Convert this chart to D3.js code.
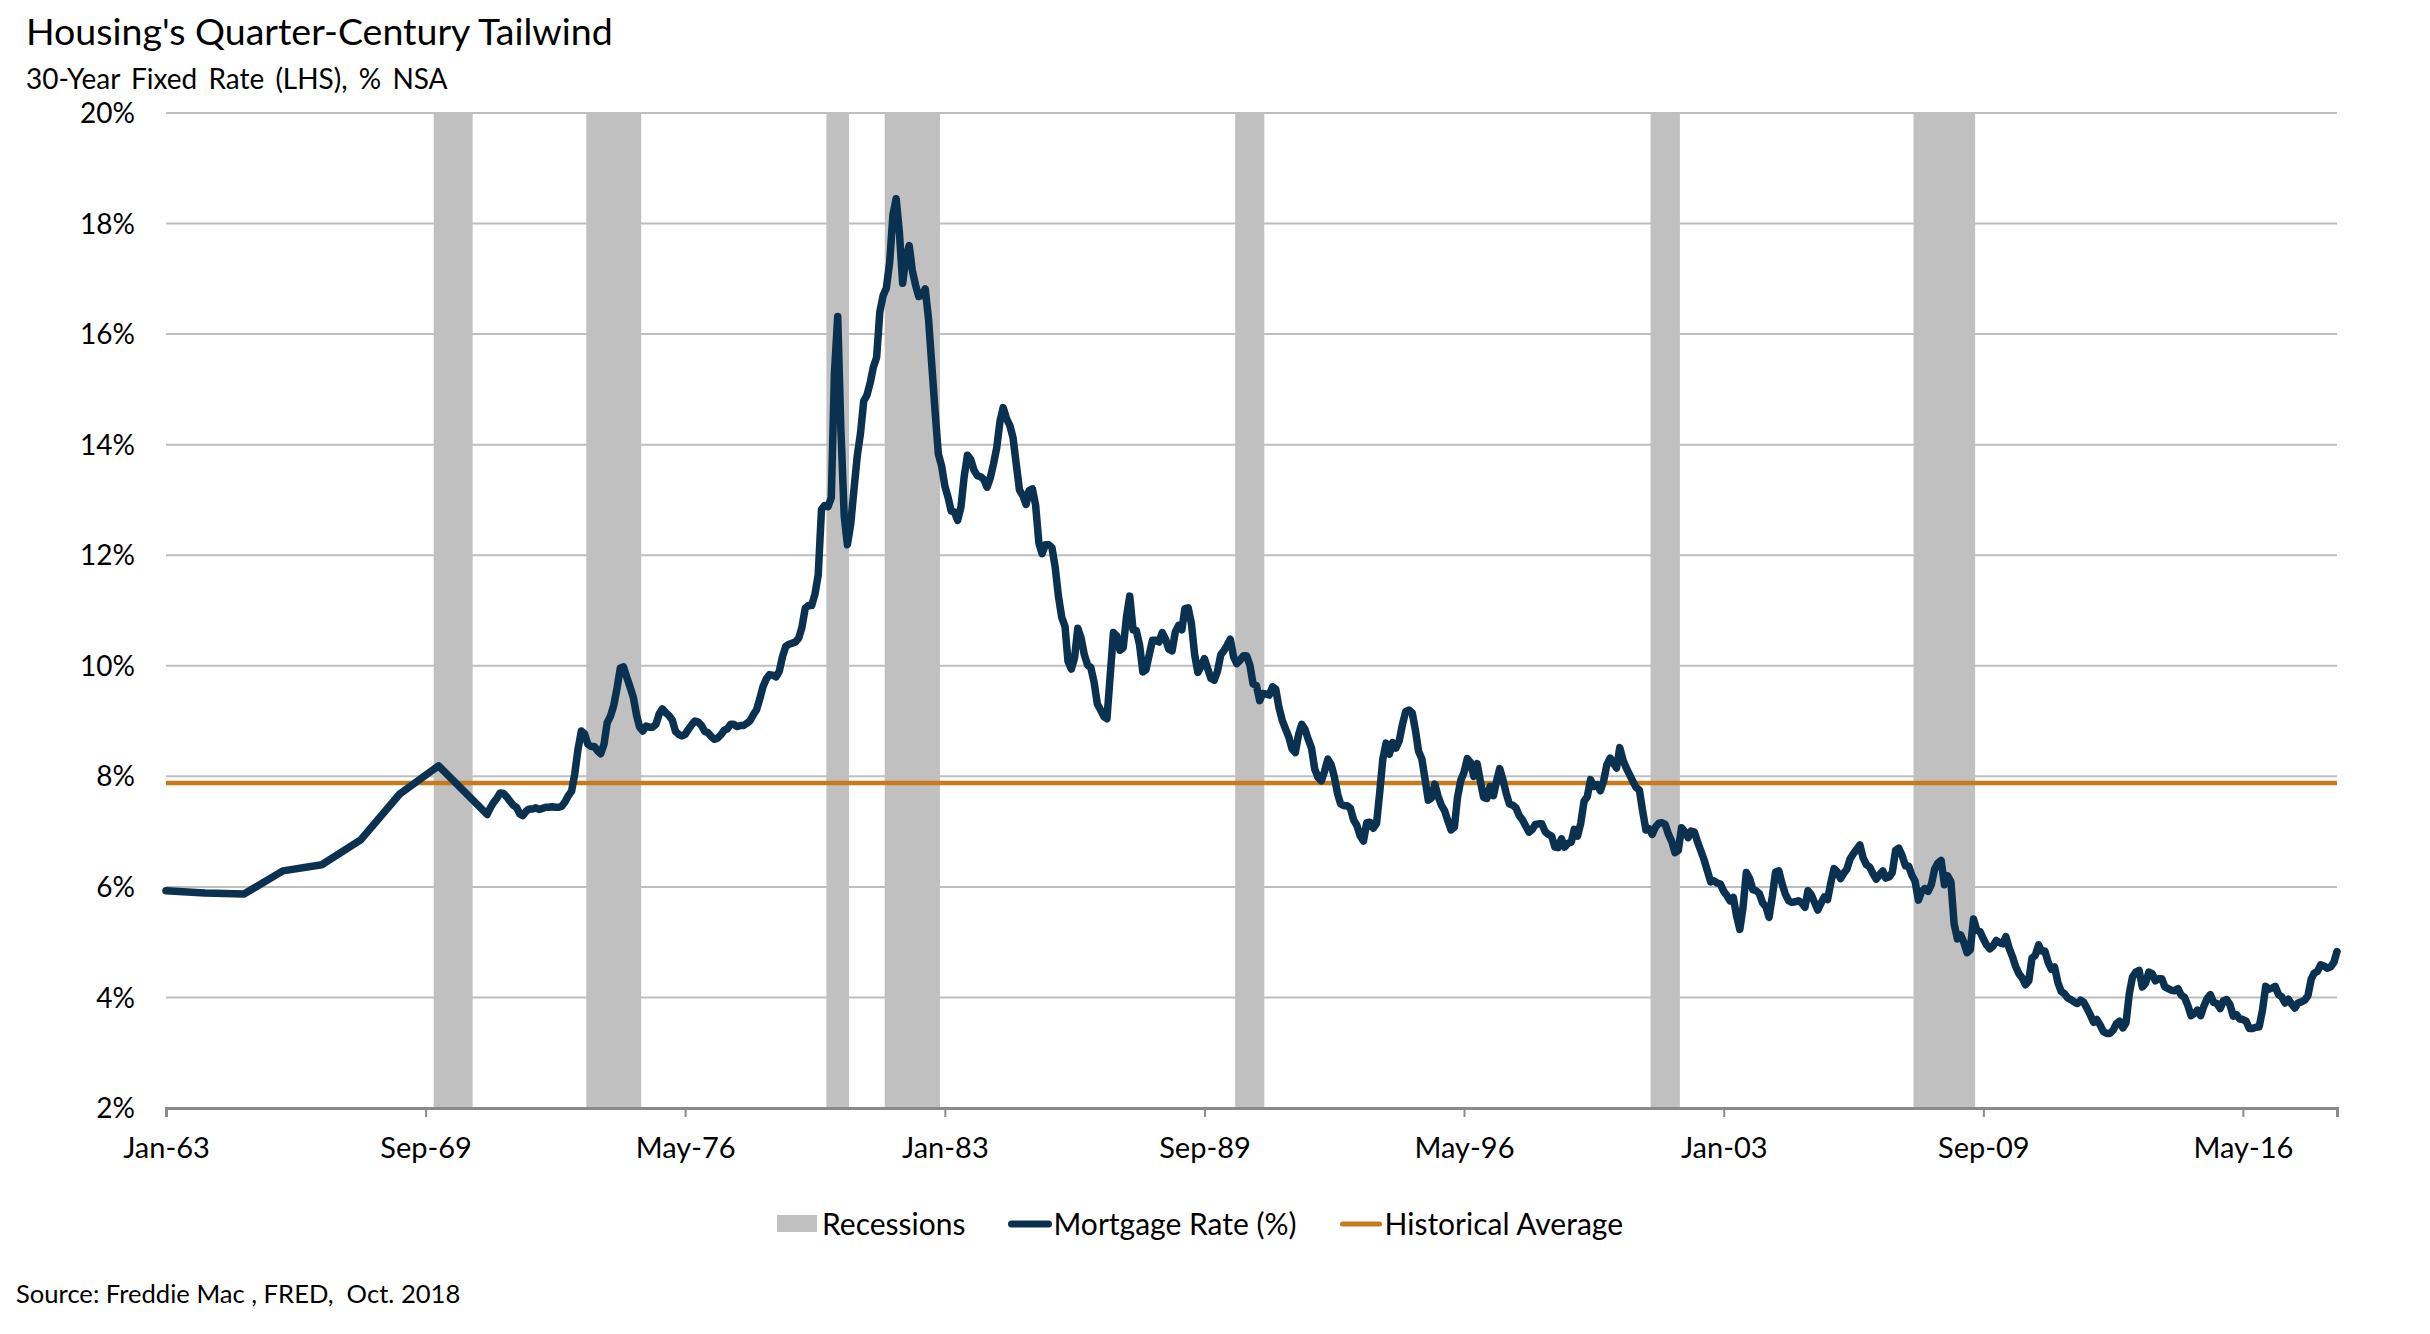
<!DOCTYPE html>
<html>
<head>
<meta charset="utf-8">
<script src="https://cdn.jsdelivr.net/npm/d3@7"></script>
<style>
  html, body { margin: 0; padding: 0; background: #fff; }
  svg { display: block; font-family: Lato, "Open Sans", sans-serif; }
</style>
</head>
<body>
<div id="chart"></div>
<script>
// Housing's Quarter-Century Tailwind – 30-year fixed mortgage rate, 1963–2018

// annual points before the weekly survey starts
const earlyDates = ["1963-01", "1964-01", "1965-01", "1966-01", "1967-01", "1968-01", "1969-01", "1970-01"];
const earlyRates = [5.93, 5.89, 5.87, 6.29, 6.40, 6.85, 7.68, 8.19];

// monthly averages, Apr 1971 onward
const pmmsStart = "1971-04";
const rates1970s = [
  7.31, 7.43, 7.53, 7.60, 7.70, 7.69, 7.63, 7.55, 7.48,                   // 1971 (Apr-Dec)
  7.44, 7.32, 7.29, 7.37, 7.41, 7.41, 7.43, 7.40, 7.42, 7.44, 7.44, 7.45, // 1972
  7.44, 7.44, 7.46, 7.54, 7.65, 7.73, 8.05, 8.50, 8.82, 8.77, 8.58, 8.54, // 1973
  8.54, 8.46, 8.41, 8.58, 8.97, 9.09, 9.28, 9.59, 9.96, 9.98, 9.79, 9.62, // 1974
  9.43, 9.10, 8.89, 8.82, 8.91, 8.89, 8.89, 8.94, 9.13, 9.22, 9.15, 9.10, // 1975
  9.02, 8.81, 8.76, 8.73, 8.76, 8.85, 8.93, 9.00, 8.98, 8.92, 8.81, 8.79, // 1976
  8.72, 8.67, 8.69, 8.75, 8.83, 8.86, 8.94, 8.94, 8.90, 8.92, 8.92, 8.96, // 1977
  9.01, 9.12, 9.20, 9.40, 9.62, 9.76, 9.84, 9.83, 9.80, 9.90, 10.17, 10.35, // 1978
  10.39, 10.41, 10.43, 10.50, 10.69, 11.04, 11.09, 11.09, 11.30, 11.64, 12.83, 12.90 // 1979
];
const rates1980s = [
  12.88, 13.04, 15.28, 16.32, 14.26, 12.71, 12.19, 12.56, 13.20, 13.79, 14.21, 14.79, // 1980
  14.90, 15.13, 15.40, 15.58, 16.40, 16.70, 16.83, 17.29, 18.16, 18.45, 17.83, 16.92, // 1981
  17.40, 17.60, 17.16, 16.89, 16.68, 16.70, 16.82, 16.27, 15.43, 14.61, 13.83, 13.62, // 1982
  13.25, 13.04, 12.80, 12.78, 12.63, 12.87, 13.42, 13.81, 13.73, 13.54, 13.44, 13.42, // 1983
  13.37, 13.23, 13.39, 13.65, 13.94, 14.42, 14.67, 14.47, 14.35, 14.13, 13.64, 13.18, // 1984
  13.08, 12.92, 13.17, 13.20, 12.91, 12.22, 12.03, 12.19, 12.19, 12.14, 11.78, 11.26, // 1985
  10.88, 10.71, 10.08, 9.94, 10.14, 10.68, 10.51, 10.20, 10.01, 9.97, 9.70, 9.31,     // 1986
  9.20, 9.08, 9.04, 9.83, 10.60, 10.54, 10.28, 10.33, 10.89, 11.26, 10.65, 10.64,     // 1987
  10.38, 9.89, 9.93, 10.20, 10.46, 10.46, 10.43, 10.60, 10.48, 10.30, 10.27, 10.61,   // 1988
  10.73, 10.65, 11.03, 11.05, 10.77, 10.20, 9.88, 9.99, 10.13, 9.95, 9.77, 9.74       // 1989
];
const rates1990s = [
  9.90, 10.20, 10.27, 10.37, 10.48, 10.16, 10.04, 10.10, 10.18, 10.18, 10.01, 9.67, // 1990
  9.64, 9.37, 9.50, 9.49, 9.47, 9.62, 9.58, 9.24, 9.01, 8.86, 8.71, 8.50,           // 1991
  8.43, 8.76, 8.94, 8.85, 8.67, 8.51, 8.13, 7.98, 7.92, 8.09, 8.31, 8.22,           // 1992
  7.99, 7.68, 7.50, 7.47, 7.47, 7.42, 7.21, 7.11, 6.92, 6.83, 7.16, 7.17,           // 1993
  7.06, 7.15, 7.68, 8.32, 8.60, 8.40, 8.61, 8.51, 8.64, 8.93, 9.17, 9.20,           // 1994
  9.15, 8.83, 8.46, 8.32, 7.96, 7.57, 7.61, 7.86, 7.64, 7.48, 7.38, 7.20,           // 1995
  7.03, 7.08, 7.62, 7.93, 8.07, 8.32, 8.25, 8.00, 8.23, 7.92, 7.62, 7.60,           // 1996
  7.82, 7.65, 7.90, 8.14, 7.94, 7.69, 7.50, 7.48, 7.43, 7.29, 7.21, 7.10,           // 1997
  6.99, 7.04, 7.13, 7.14, 7.14, 7.00, 6.95, 6.92, 6.72, 6.71, 6.87, 6.72,           // 1998
  6.79, 6.81, 7.04, 6.92, 7.15, 7.55, 7.63, 7.94, 7.82, 7.85, 7.74, 7.91            // 1999
];
const rates2000s = [
  8.21, 8.33, 8.24, 8.15, 8.52, 8.29, 8.15, 8.03, 7.91, 7.80, 7.75, 7.38, // 2000
  7.03, 7.05, 6.95, 7.08, 7.15, 7.16, 7.13, 6.95, 6.82, 6.62, 6.66, 7.07, // 2001
  7.00, 6.89, 7.01, 6.99, 6.81, 6.65, 6.49, 6.29, 6.09, 6.11, 6.07, 6.05, // 2002
  5.92, 5.84, 5.75, 5.81, 5.48, 5.23, 5.63, 6.26, 6.15, 5.95, 5.93, 5.88, // 2003
  5.71, 5.64, 5.45, 5.83, 6.27, 6.29, 6.06, 5.87, 5.75, 5.72, 5.73, 5.75, // 2004
  5.71, 5.63, 5.93, 5.86, 5.72, 5.58, 5.70, 5.82, 5.77, 6.07, 6.33, 6.27, // 2005
  6.15, 6.25, 6.32, 6.51, 6.60, 6.68, 6.76, 6.52, 6.40, 6.36, 6.24, 6.14, // 2006
  6.22, 6.29, 6.16, 6.18, 6.26, 6.66, 6.70, 6.57, 6.38, 6.38, 6.21, 6.10, // 2007
  5.76, 5.92, 5.97, 5.92, 6.04, 6.32, 6.43, 6.48, 6.04, 6.20, 6.09, 5.33, // 2008
  5.06, 5.13, 5.00, 4.81, 4.86, 5.42, 5.22, 5.19, 5.06, 4.95, 4.88, 4.93  // 2009
];
const rates2010s = [
  5.03, 4.99, 4.97, 5.10, 4.89, 4.74, 4.56, 4.43, 4.35, 4.23, 4.30, 4.71, // 2010
  4.76, 4.95, 4.84, 4.84, 4.64, 4.51, 4.55, 4.27, 4.11, 4.07, 3.99, 3.96, // 2011
  3.92, 3.89, 3.95, 3.91, 3.80, 3.68, 3.55, 3.60, 3.50, 3.38, 3.35, 3.35, // 2012
  3.41, 3.53, 3.57, 3.45, 3.54, 4.07, 4.37, 4.46, 4.49, 4.19, 4.26, 4.46, // 2013
  4.43, 4.30, 4.34, 4.34, 4.19, 4.16, 4.13, 4.12, 4.16, 4.04, 4.00, 3.86, // 2014
  3.67, 3.71, 3.77, 3.67, 3.84, 3.98, 4.05, 3.91, 3.89, 3.80, 3.94, 3.96, // 2015
  3.87, 3.66, 3.69, 3.61, 3.60, 3.57, 3.44, 3.44, 3.46, 3.47, 3.77, 4.20, // 2016
  4.15, 4.17, 4.20, 4.05, 4.01, 3.90, 3.97, 3.88, 3.81, 3.90, 3.92, 3.95, // 2017
  4.03, 4.33, 4.44, 4.47, 4.59, 4.57, 4.53, 4.55, 4.63, 4.83              // 2018 (Jan-Oct)
];

const historicalAverage = 7.88;

// NBER recessions (first and last month)
const recessionStart = ["1969-12", "1973-11", "1980-01", "1981-07", "1990-07", "2001-03", "2007-12"];
const recessionEnd   = ["1970-11", "1975-03", "1980-07", "1982-11", "1991-03", "2001-11", "2009-06"];

const xTickDates = ["1963-01", "1969-09", "1976-05", "1983-01", "1989-09", "1996-05", "2003-01", "2009-09", "2016-05"];
const yTicks = [2, 4, 6, 8, 10, 12, 14, 16, 18, 20];

const legendLabels = ["Recessions", "Mortgage Rate (%)", "Historical Average"];

const parseMonth = d3.timeParse("%Y-%m");

// build the series
const series = earlyDates.map((d, i) => ({ date: parseMonth(d), value: earlyRates[i] }));
const monthly = [].concat(rates1970s, rates1980s, rates1990s, rates2000s, rates2010s);
const first = parseMonth(pmmsStart);
monthly.forEach((v, i) => {
  series.push({ date: d3.timeMonth.offset(first, i), value: v });
});

const width = 2430;
const height = 1334;
const margin = { top: 113, right: 93, bottom: 226, left: 166 };

const navy = "#0A314F";
const orange = "#C97A1A";
const recessGrey = "#C0C0C0";

const svg = d3.select("#chart")
  .append("svg")
  .attr("width", width)
  .attr("height", height);

const x = d3.scaleTime()
  .domain(d3.extent(series, d => d.date))
  .range([margin.left, width - margin.right]);

const y = d3.scaleLinear()
  .domain([2, 20])
  .range([height - margin.bottom, margin.top]);

// gridlines
svg.append("g")
  .selectAll("line")
  .data(yTicks.filter(t => t > 2))
  .enter()
  .append("line")
  .attr("x1", margin.left)
  .attr("x2", width - margin.right)
  .attr("y1", d => y(d))
  .attr("y2", d => y(d))
  .attr("stroke", "#BEBEBE")
  .attr("stroke-width", 2);

// recession bands (each month drawn as a full-width column)
const halfMonth = d => d3.timeDay.offset(d, -15);
svg.append("g")
  .selectAll("rect")
  .data(recessionStart.map((s, i) => ({ start: parseMonth(s), end: parseMonth(recessionEnd[i]) })))
  .enter()
  .append("rect")
  .attr("x", d => x(halfMonth(d.start)))
  .attr("width", d => x(d3.timeDay.offset(d.end, 15)) - x(halfMonth(d.start)))
  .attr("y", margin.top)
  .attr("height", height - margin.bottom - margin.top)
  .attr("fill", recessGrey);

// y labels
svg.append("g")
  .selectAll("text")
  .data(yTicks)
  .enter()
  .append("text")
  .attr("x", margin.left - 31)
  .attr("y", d => y(d))
  .attr("dy", "0.36em")
  .attr("text-anchor", "end")
  .style("font-size", "28px")
  .attr("fill", "#000")
  .text(d => d + "%");

// x axis
const fmt = d3.timeFormat("%b-%y");
const xAxis = svg.append("g")
  .attr("transform", `translate(0,${height - margin.bottom})`)
  .call(
    d3.axisBottom(x)
      .tickValues(xTickDates.map(parseMonth))
      .tickFormat(fmt)
      .tickSize(9)
      .tickPadding(20)
  );
xAxis.select(".domain")
  .attr("stroke", "#8A8A8A")
  .attr("stroke-width", 3);
xAxis.selectAll(".tick line")
  .attr("stroke", "#8A8A8A")
  .attr("stroke-width", 2);
xAxis.selectAll(".tick text")
  .attr("fill", "#000")
  .style("font-size", "29px")
  .style("font-family", "Lato, sans-serif");

// historical average
svg.append("line")
  .attr("x1", margin.left)
  .attr("x2", width - margin.right)
  .attr("y1", y(historicalAverage))
  .attr("y2", y(historicalAverage))
  .attr("stroke", orange)
  .attr("stroke-width", 4.5);

// mortgage rate line
const line = d3.line()
  .x(d => x(d.date))
  .y(d => y(d.value));

svg.append("path")
  .datum(series)
  .attr("fill", "none")
  .attr("stroke", navy)
  .attr("stroke-width", 7.5)
  .attr("stroke-linejoin", "round")
  .attr("stroke-linecap", "round")
  .attr("d", line);

// titles
svg.append("text")
  .attr("x", 26)
  .attr("y", 45)
  .style("font-size", "37.5px")
  .attr("fill", "#000")
  .text("Housing's Quarter-Century Tailwind");

svg.append("text")
  .attr("x", 26)
  .attr("y", 89)
  .style("font-size", "28px")
  .style("word-spacing", "4px")
  .attr("fill", "#000")
  .text("30-Year Fixed Rate (LHS), % NSA");

// legend
const legend = svg.append("g")
  .attr("transform", `translate(777,1224)`);
let lx = 0;
legendLabels.forEach((label, i) => {
  const g = legend.append("g").attr("transform", `translate(${lx},0)`);
  if (i === 0) {
    g.append("rect")
      .attr("x", 0).attr("y", -9)
      .attr("width", 40).attr("height", 17)
      .attr("fill", recessGrey);
  } else {
    g.append("line")
      .attr("x1", 3).attr("x2", 40)
      .attr("y1", 0).attr("y2", 0)
      .attr("stroke", i === 1 ? navy : orange)
      .attr("stroke-width", i === 1 ? 7 : 5)
      .attr("stroke-linecap", "round");
  }
  const t = g.append("text")
    .attr("x", 45)
    .attr("y", 0)
    .attr("dy", "0.36em")
    .style("font-size", "30px")
    .attr("fill", "#000")
    .text(label);
  lx += 45 + t.node().getComputedTextLength() + 43;
});

// source
svg.append("text")
  .attr("x", 16)
  .attr("y", 1303)
  .style("font-size", "25.6px")
  .attr("fill", "#000")
  .attr("xml:space", "preserve")
  .style("white-space", "pre")
  .text("Source: Freddie Mac , FRED,  Oct. 2018");
</script>
</body>
</html>
